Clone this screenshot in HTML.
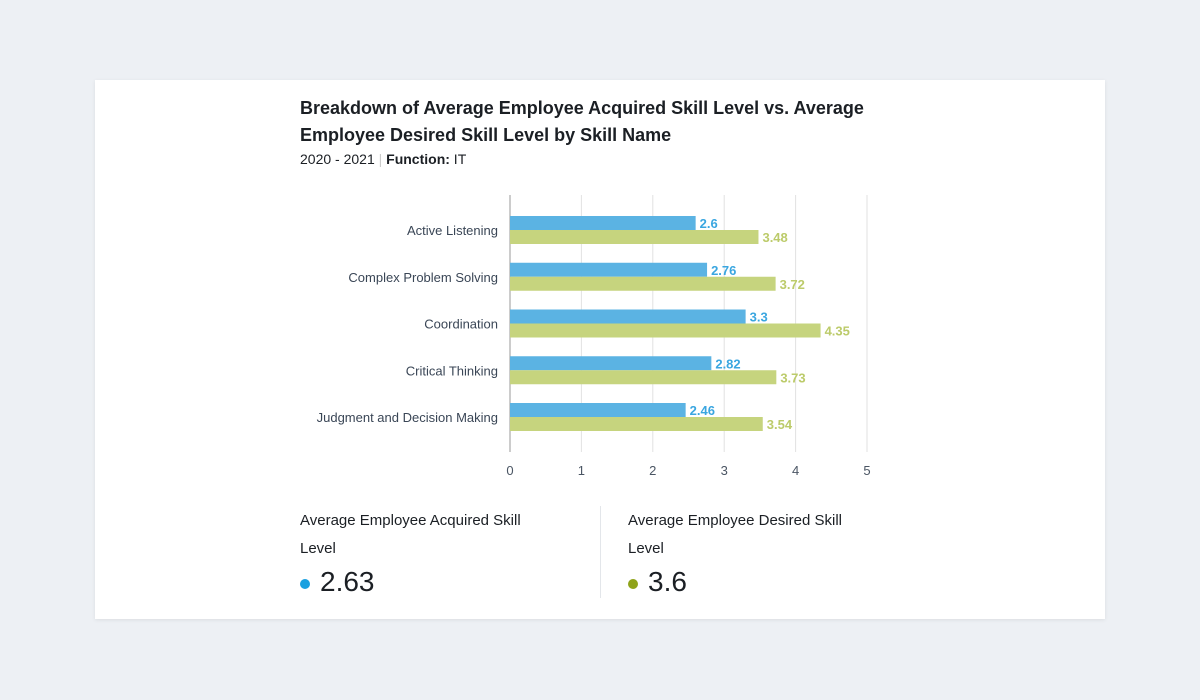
<!DOCTYPE html>
<html><head><meta charset="utf-8"><style>
body{margin:0;width:1200px;height:700px;background:#edf0f4;font-family:"Liberation Sans",sans-serif;overflow:hidden;position:relative}
.card{position:absolute;left:95px;top:80px;width:1010px;height:539px;background:#fff;box-shadow:0 1px 4px rgba(0,0,0,0.08)}
.t{position:absolute;color:#1b1f24}
</style></head><body>
<div class="card"></div>
<div class="t" style="left:300px;top:95px;font-size:18px;font-weight:bold;line-height:27px;width:580px;letter-spacing:0">Breakdown of Average Employee Acquired Skill Level vs. Average Employee Desired Skill Level by Skill Name</div>
<div class="t" style="left:300px;top:151px;font-size:14px">2020 - 2021 <span style="color:#ccc">|</span> <b>Function:</b> IT</div>
<svg id="chart" width="1200" height="700" style="position:absolute;left:0;top:0"></svg>
<div class="t" style="left:300px;top:507px;font-size:15px;line-height:28px;width:245px">Average Employee Acquired Skill Level</div>
<div class="t" style="left:300px;top:566px;font-size:28px"><span style="display:inline-block;width:10px;height:10px;border-radius:50%;background:#1aa0e0;margin-right:10px;vertical-align:middle"></span>2.63</div>
<div style="position:absolute;left:600px;top:506px;width:1px;height:92px;background:#e3e6ea"></div>
<div class="t" style="left:628px;top:507px;font-size:15px;line-height:28px;width:240px">Average Employee Desired Skill Level</div>
<div class="t" style="left:628px;top:566px;font-size:28px"><span style="display:inline-block;width:10px;height:10px;border-radius:50%;background:#8fa31a;margin-right:10px;vertical-align:middle"></span>3.6</div>
<script>
const categories=["Active Listening","Complex Problem Solving","Coordination","Critical Thinking","Judgment and Decision Making"];
const acquired=[2.6,2.76,3.3,2.82,2.46];
const desired=[3.48,3.72,4.35,3.73,3.54];
const ticks=[0,1,2,3,4,5];
const svg=document.getElementById('chart');
const NS='http://www.w3.org/2000/svg';
const x=v=>510+v*71.4;
const yc=i=>230+i*46.75;
function mk(t,a){const e=document.createElementNS(NS,t);for(const k in a)e.setAttribute(k,a[k]);svg.appendChild(e);return e;}
ticks.forEach(t=>{
 const g=mk('line',{x1:x(t),x2:x(t),y1:195,y2:452,stroke:t===0?'#bbb':'#e2e2e2','stroke-width':t===0?1.5:1});
 
 
 const l=mk('text',{x:x(t),y:475,'text-anchor':'middle','font-size':13,fill:'#4a5563'});l.textContent=t;
 
 
});
categories.forEach((c,i)=>{
 const l=mk('text',{x:498,y:yc(i)+5,'text-anchor':'end','font-size':13,fill:'#3a4656'});l.textContent=c;
 
 
 const b=mk('rect',{x:x(0),y:yc(i)-14,width:x(acquired[i])-x(0),height:14,fill:'#5bb3e3'});
 
 
 const g=mk('rect',{x:x(0),y:yc(i),width:x(desired[i])-x(0),height:14,fill:'#c6d47e'});
 
 
 const t1=mk('text',{x:x(acquired[i])+4,y:yc(i)-2,'font-size':13,'font-weight':'bold',fill:'#3aa6e0'});t1.textContent=acquired[i];
 
 
 const t2=mk('text',{x:x(desired[i])+4,y:yc(i)+12,'font-size':13,'font-weight':'bold',fill:'#bccb6a'});t2.textContent=desired[i];
 
 
});
</script>
</body></html>
